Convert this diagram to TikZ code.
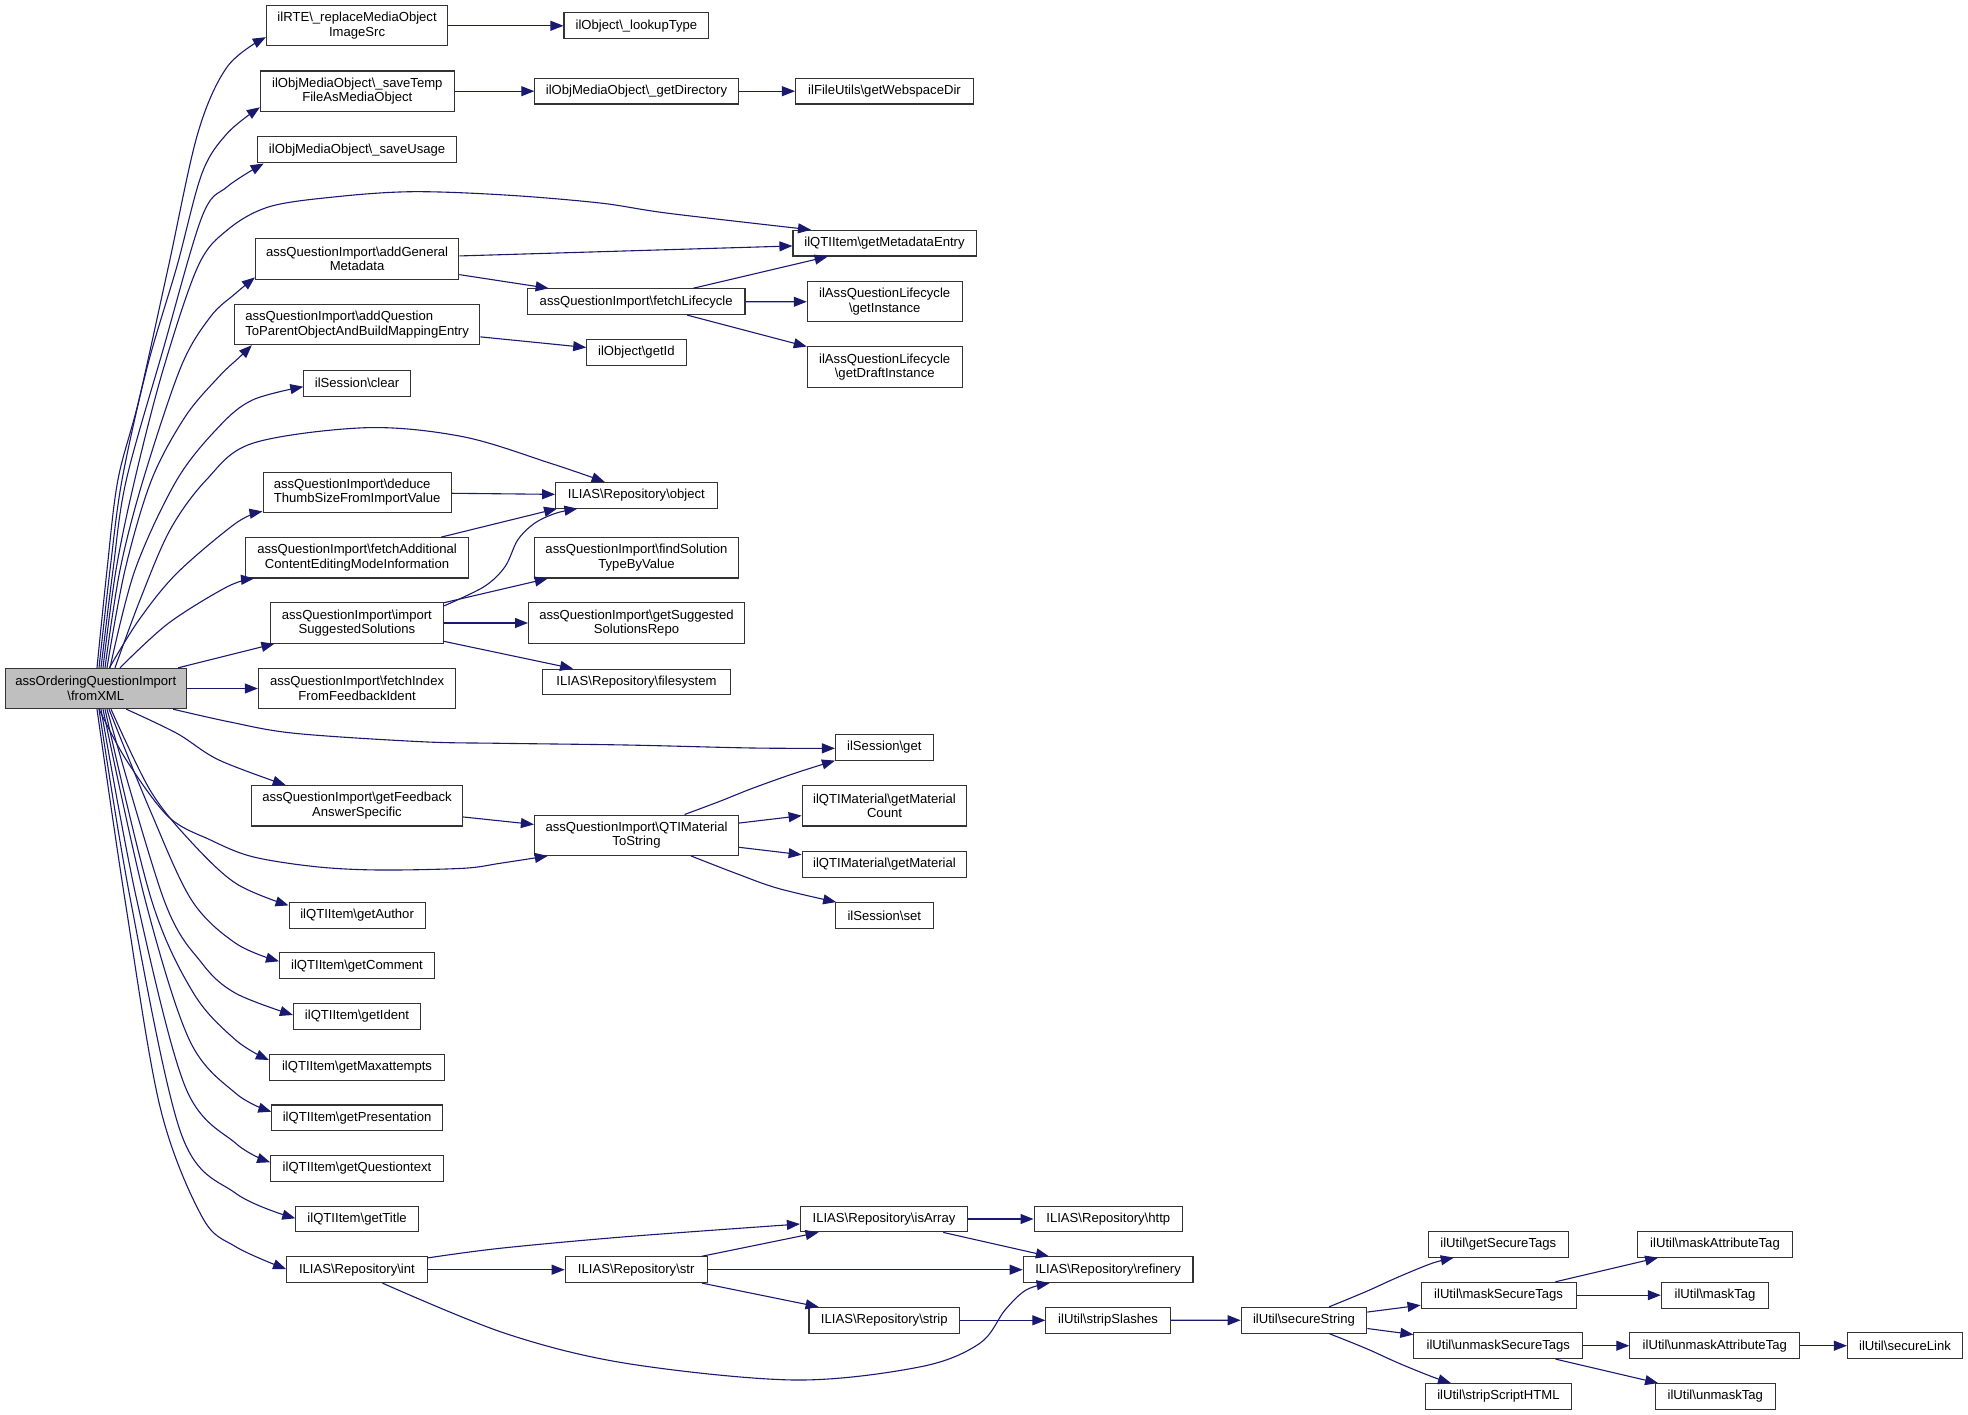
\documentclass[tikz,border=0pt]{standalone}
\usepackage{fontspec}
\setmainfont{Liberation Sans}
\usetikzlibrary{arrows.meta,calc}
\definecolor{edgecol}{HTML}{191970}
\definecolor{mainfill}{HTML}{BFBFBF}
\definecolor{boxline}{HTML}{333333}
\newcommand{\bksl}{\textbackslash}
\begin{document}
\begin{tikzpicture}[x=1pt,y=-1pt,
  box/.style={draw=boxline, line width=1.1pt, inner sep=0pt, align=center,
    font=\fontsize{13.1}{14.6}\selectfont, minimum height=25.7pt, fill=white},
  two/.style={minimum height=40.3pt},
  conn/.style={draw=edgecol, line width=1.1pt, -{Triangle[length=13pt,width=10pt]}},
  sm/.style={smooth, tension=0.55}
]
\useasboundingbox (0,0) rectangle (1968,1415);

% ---------- nodes ----------
\node[box, two, minimum width=181.4pt, fill=mainfill] (main) at (95.8,688.5) {assOrderingQuestionImport\\\bksl fromXML};

\node[box, two, minimum width=181.4pt] (ilrte) at (357.1,25.8) {ilRTE\bksl\_replaceMediaObject\\ImageSrc};
\node[box, two, minimum width=193.7pt] (savetemp) at (357.3,91.2) {ilObjMediaObject\bksl\_saveTemp\\FileAsMediaObject};
\node[box, minimum width=199.1pt, minimum height=26.3pt] (saveusage) at (357.1,149.8) {ilObjMediaObject\bksl\_saveUsage};
\node[box, two, minimum width=203.3pt] (addgen) at (357.1,259) {assQuestionImport\bksl addGeneral\\Metadata};
\node[box, two, minimum width=245.4pt, align=left] (addq) at (357.1,324.5) {assQuestionImport\bksl addQuestion\\ToParentObjectAndBuildMappingEntry};
\node[box, minimum width=106.5pt] (clear) at (357.1,383.2) {ilSession\bksl clear};
\node[box, two, minimum width=188.1pt, align=left] (deduce) at (357.1,492.3) {assQuestionImport\bksl deduce\\ThumbSizeFromImportValue};
\node[box, two, minimum width=222.7pt] (fetchadd) at (357.1,557.8) {assQuestionImport\bksl fetchAdditional\\ContentEditingModeInformation};
\node[box, two, minimum width=172.6pt] (importsug) at (356.9,623) {assQuestionImport\bksl import\\SuggestedSolutions};
\node[box, two, minimum width=197.4pt] (fetchidx) at (357.1,688.5) {assQuestionImport\bksl fetchIndex\\FromFeedbackIdent};
\node[box, two, minimum width=211.3pt] (getfb) at (357,805.8) {assQuestionImport\bksl getFeedback\\AnswerSpecific};
\node[box, minimum width=136pt] (getauthor) at (357.1,915.5) {ilQTIItem\bksl getAuthor};
\node[box, minimum width=154.9pt] (getcomment) at (357,965.7) {ilQTIItem\bksl getComment};
\node[box, minimum width=127.1pt] (getident) at (357,1016.5) {ilQTIItem\bksl getIdent};
\node[box, minimum width=175.1pt] (getmax) at (357,1067.2) {ilQTIItem\bksl getMaxattempts};
\node[box, minimum width=170.5pt] (getpres) at (357.1,1117.8) {ilQTIItem\bksl getPresentation};
\node[box, minimum width=172.6pt] (getqt) at (357,1168.5) {ilQTIItem\bksl getQuestiontext};
\node[box, minimum width=122.5pt] (gettitle) at (357.1,1219) {ilQTIItem\bksl getTitle};
\node[box, minimum width=140.6pt] (int) at (356.9,1269.7) {ILIAS\bksl Repository\bksl int};

\node[box, minimum width=144.8pt] (lookup) at (636.4,25.8) {ilObject\bksl\_lookupType};
\node[box, minimum width=203.3pt] (getdir) at (636.5,91.2) {ilObjMediaObject\bksl\_getDirectory};
\node[box, minimum width=217.6pt] (fetchlc) at (636.2,301.7) {assQuestionImport\bksl fetchLifecycle};
\node[box, minimum width=99.3pt] (getid) at (636.4,352.5) {ilObject\bksl getId};
\node[box, minimum width=161.6pt] (object) at (636.4,495.2) {ILIAS\bksl Repository\bksl object};
\node[box, two, minimum width=204.1pt] (findsol) at (636.5,557.8) {assQuestionImport\bksl findSolution\\TypeByValue};
\node[box, two, minimum width=215.9pt] (getsugg) at (636.5,623) {assQuestionImport\bksl getSuggested\\SolutionsRepo};
\node[box, minimum width=187.3pt] (filesys) at (636.5,682) {ILIAS\bksl Repository\bksl filesystem};
\node[box, two, minimum width=204.1pt] (qtimat) at (636.5,835.2) {assQuestionImport\bksl QTIMaterial\\ToString};
\node[box, minimum width=141.9pt] (str) at (636.2,1269.7) {ILIAS\bksl Repository\bksl str};

\node[box, minimum width=178pt] (webspace) at (884.5,91.2) {ilFileUtils\bksl getWebspaceDir};
\node[box, minimum width=183.1pt] (metadata) at (884.5,243.2) {ilQTIItem\bksl getMetadataEntry};
\node[box, two, minimum width=154.8pt] (getinst) at (884.7,301.8) {ilAssQuestionLifecycle\\\bksl getInstance};
\node[box, two, minimum width=154.8pt] (getdraft) at (884.7,367) {ilAssQuestionLifecycle\\\bksl getDraftInstance};
\node[box, minimum width=97.6pt] (sessget) at (884.3,747.2) {ilSession\bksl get};
\node[box, two, minimum width=164.6pt] (matcount) at (884.5,805.8) {ilQTIMaterial\bksl getMaterial\\Count};
\node[box, minimum width=164.6pt] (getmat) at (884.5,864.5) {ilQTIMaterial\bksl getMaterial};
\node[box, minimum width=97.6pt] (sessset) at (884.3,915.5) {ilSession\bksl set};
\node[box, minimum width=167.1pt] (isarray) at (884,1219) {ILIAS\bksl Repository\bksl isArray};
\node[box, minimum width=150.7pt] (strip) at (884.3,1320.3) {ILIAS\bksl Repository\bksl strip};

\node[box, minimum width=148.4pt] (http) at (1108.3,1219) {ILIAS\bksl Repository\bksl http};
\node[box, minimum width=169.8pt] (refinery) at (1108.1,1269.7) {ILIAS\bksl Repository\bksl refinery};
\node[box, minimum width=124.4pt] (stripslashes) at (1108.1,1320.3) {ilUtil\bksl stripSlashes};

\node[box, minimum width=125.6pt] (securestr) at (1304,1320.2) {ilUtil\bksl secureString};

\node[box, minimum width=140pt] (getsecure) at (1498.3,1244.2) {ilUtil\bksl getSecureTags};
\node[box, minimum width=155pt] (masksec) at (1498.6,1295.2) {ilUtil\bksl maskSecureTags};
\node[box, minimum width=168.8pt] (unmasksec) at (1498.3,1345.7) {ilUtil\bksl unmaskSecureTags};
\node[box, minimum width=146.7pt] (stripscript) at (1498.4,1396.5) {ilUtil\bksl stripScriptHTML};

\node[box, minimum width=155pt] (maskattr) at (1715,1244.2) {ilUtil\bksl maskAttributeTag};
\node[box, minimum width=107.4pt] (masktag) at (1715,1295.2) {ilUtil\bksl maskTag};
\node[box, minimum width=170pt] (unmaskattr) at (1714.8,1345.7) {ilUtil\bksl unmaskAttributeTag};
\node[box, minimum width=120.1pt] (unmasktag) at (1715.3,1396.5) {ilUtil\bksl unmaskTag};

\node[box, minimum width=115.1pt] (securelink) at (1905,1345.7) {ilUtil\bksl secureLink};

% ---------- straight connectors ----------
\draw[conn] (ilrte) -- (lookup);
\draw[conn] (savetemp) -- (getdir);
\draw[conn] (getdir) -- (webspace);
\draw[conn] (addgen) -- (metadata);
\draw[conn] (addgen) -- (fetchlc);
\draw[conn] (fetchlc) -- (metadata);
\draw[conn] (fetchlc) -- (getinst);
\draw[conn] (fetchlc) -- (getdraft);
\draw[conn] (addq) -- (getid);
\draw[conn] (deduce) -- (object);
\draw[conn] (fetchadd) -- ($(object.south west)+(2,0)$);
\draw[conn] (importsug) -- (findsol);
\draw[conn] (importsug) -- (getsugg);
\draw[conn] (importsug) -- (filesys);
\draw[conn] (main) -- (importsug);
\draw[conn] (main) -- (fetchidx);
\draw[conn] (getfb) -- (qtimat);
\draw[conn] (qtimat) -- (matcount);
\draw[conn] (qtimat) -- (getmat);
\draw[conn] (int) -- (str);
\draw[conn] (str) -- (isarray);
\draw[conn] (str) -- (refinery);
\draw[conn] (str) -- (strip);
\draw[conn] (isarray) -- (http);
\draw[conn] (isarray) -- (refinery);
\draw[conn] (strip) -- (stripslashes);
\draw[conn] (stripslashes) -- (securestr);
\draw[conn] (securestr) -- (masksec);
\draw[conn] (securestr) -- (unmasksec);
\draw[conn] (masksec) -- (maskattr);
\draw[conn] (masksec) -- (masktag);
\draw[conn] (unmasksec) -- (unmaskattr);
\draw[conn] (unmasksec) -- (unmasktag);
\draw[conn] (unmaskattr) -- (securelink);

% ---------- curved connectors: upper fan ----------
\draw[conn] plot[sm] coordinates {($(main.north)+(1.2,0)$) (107,570) (117.9,480) (138.9,400) (168.4,266.7) (197.8,133.3) (227.3,66.7) ($(ilrte.south west)+(0,-9.3)$)};
\draw[conn] plot[sm] coordinates {($(main.north)+(3.2,0)$) (110,570) (122,480) (147.3,366.7) (176.8,266.7) (202,173.3) (227.3,133.3) ($(savetemp.south west)+(0,-4.6)$)};
\draw[conn] plot[sm] coordinates {($(main.north)+(5.2,0)$) (113,570) (126.3,480) (163,350) (202,216.7) (227.3,186.7) ($(saveusage.south west)+(6.7,0)$)};
\draw[conn] plot[sm] coordinates {($(main.north)+(7.2,0)$) (116,570) (134.7,480) (163,370) (197.8,266.7) (227.3,230) (269.4,206.7) (336.7,196.7) (412.5,191.7) (505,195) (600,203) (668.4,213.3) ($(metadata.north west)+(18.6,0)$)};
\draw[conn] plot[sm] coordinates {($(main.north)+(9.2,0)$) (120,570) (143.1,480) (181,366.7) (210.5,316.7) (235.7,293.3) ($(addgen.south west)+(0,-2.3)$)};
\draw[conn] plot[sm] coordinates {($(main.north)+(11.2,0)$) (125,570) (151.5,480) (185.2,416.7) (218.9,376.7) (240,356.7) ($(addq.south west)+(18,0)$)};
\draw[conn] plot[sm] coordinates {($(main.north)+(14.2,0)$) (135,570) (176.8,480) (218.9,426.7) (252.5,400) ($(clear.west)+(0,3.5)$)};
\draw[conn] plot[sm] coordinates {($(main.north)+(19.2,0)$) (140,600) (170,530) (206.2,480) (252.5,443.3) (366.2,427.7) (463,436.7) (550.5,463.3) ($(object.north west)+(49.6,0)$)};
\draw[conn] plot[sm] coordinates {($(main.north)+(13.6,0)$) (138.9,620) (176.8,573.3) (235.7,523.3) ($(deduce.south west)+(0,-1.6)$)};
\draw[conn] plot[sm] coordinates {($(main.north)+(24.2,0)$) (168.4,623.3) (227.3,586.7) ($(fetchadd.south west)+(8.8,0)$)};

% ---------- curved connectors: lower fan ----------
\draw[conn] plot[sm] coordinates {($(main.south east)+(-13.9,0)$) (230,722) (294.6,733.3) (421,741.7) (500,743.3) (626,745) (752.5,748) ($(sessget.west)+(0,1.1)$)};
\draw[conn] plot[sm] coordinates {($(main.south)+(30.5,0)$) (176.8,733.3) (218.9,760) ($(getfb.north west)+(34.9,0)$)};
\draw[conn] plot[sm] coordinates {($(main.south)+(3.2,0)$) (126.3,760) (168.4,816.7) (210.5,840) (252.5,856.7) (315.7,866.7) (378.8,870) (463,868.3) (500,863.3) ($(qtimat.south west)+(13.9,0)$)};
\draw[conn] plot[sm] coordinates {($(main.south)+(15.2,0)$) (150,790) (189.4,840) (235.7,883.3) ($(getauthor.north west)+(0,3.3)$)};
\draw[conn] plot[sm] coordinates {($(main.south)+(13.2,0)$) (150,810) (191.5,900) (235.7,943.3) ($(getcomment.north west)+(0,9)$)};
\draw[conn] plot[sm] coordinates {($(main.south)+(11.2,0)$) (164,900) (202,963.3) (235.7,993.3) ($(getident.west)+(0,-1.5)$)};
\draw[conn] plot[sm] coordinates {($(main.south)+(9.2,0)$) (151.5,900) (193.6,993.3) (235.7,1040) ($(getmax.west)+(0,-7.2)$)};
\draw[conn] plot[sm] coordinates {($(main.south)+(7.2,0)$) (145.2,900) (189.4,1040) (235.7,1093.3) ($(getpres.west)+(0,-6.1)$)};
\draw[conn] plot[sm] coordinates {($(main.south)+(5.2,0)$) (136.8,900) (185.2,1086.7) (235.7,1143.3) ($(getqt.west)+(0,-6.2)$)};
\draw[conn] plot[sm] coordinates {($(main.south)+(3.2,0)$) (130.5,900) (181,1133.3) (235.7,1193.3) ($(gettitle.west)+(0,-0.7)$)};
\draw[conn] plot[sm] coordinates {($(main.south)+(1.2,0)$) (125,900) (160,1106.7) (202,1216.7) (235.7,1246.7) ($(int.west)+(0,-0.7)$)};

% ---------- other curved connectors ----------
\draw[conn] plot[sm] coordinates {($(importsug.north east)+(0,3.7)$) (484,586.7) (505,566.7) (517.7,540) (534.5,523.3) (555.6,513.3) ($(object.south west)+(22.4,0)$)};
\draw[conn] plot[sm] coordinates {($(qtimat.north west)+(150.7,0)$) (718.8,801.7) (752.5,788.3) (794.6,773.3) (sessget.south west)};
\draw[conn] plot[sm] coordinates {($(qtimat.south west)+(157,0)$) (735.7,873.3) (777.8,888.3) ($(sessset.north west)+(1.2,0)$)};
\draw[conn] plot[sm] coordinates {($(int.north east)+(0,1.6)$) (500,1248.3) (626,1236.7) ($(isarray.west)+(0,5)$)};
\draw[conn] plot[sm] coordinates {($(int.south west)+(96.4,0)$) (505,1333.3) (626,1363.3) (794.6,1380) (920.9,1366.7) (979.8,1343.3) (1005,1310) (1026,1290) ($(refinery.south west)+(27,0)$)};
\draw[conn] plot[sm] coordinates {($(securestr.north west)+(88.5,0)$) (1365.7,1291.7) (1399,1276.7) (1432,1263.3) ($(getsecure.south west)+(26,0)$)};
\draw[conn] plot[sm] coordinates {($(securestr.south west)+(88.5,0)$) (1365.7,1348.3) (1399,1363.3) (1432,1376.7) ($(stripscript.north west)+(26.5,0)$)};
\end{tikzpicture}
\end{document}
